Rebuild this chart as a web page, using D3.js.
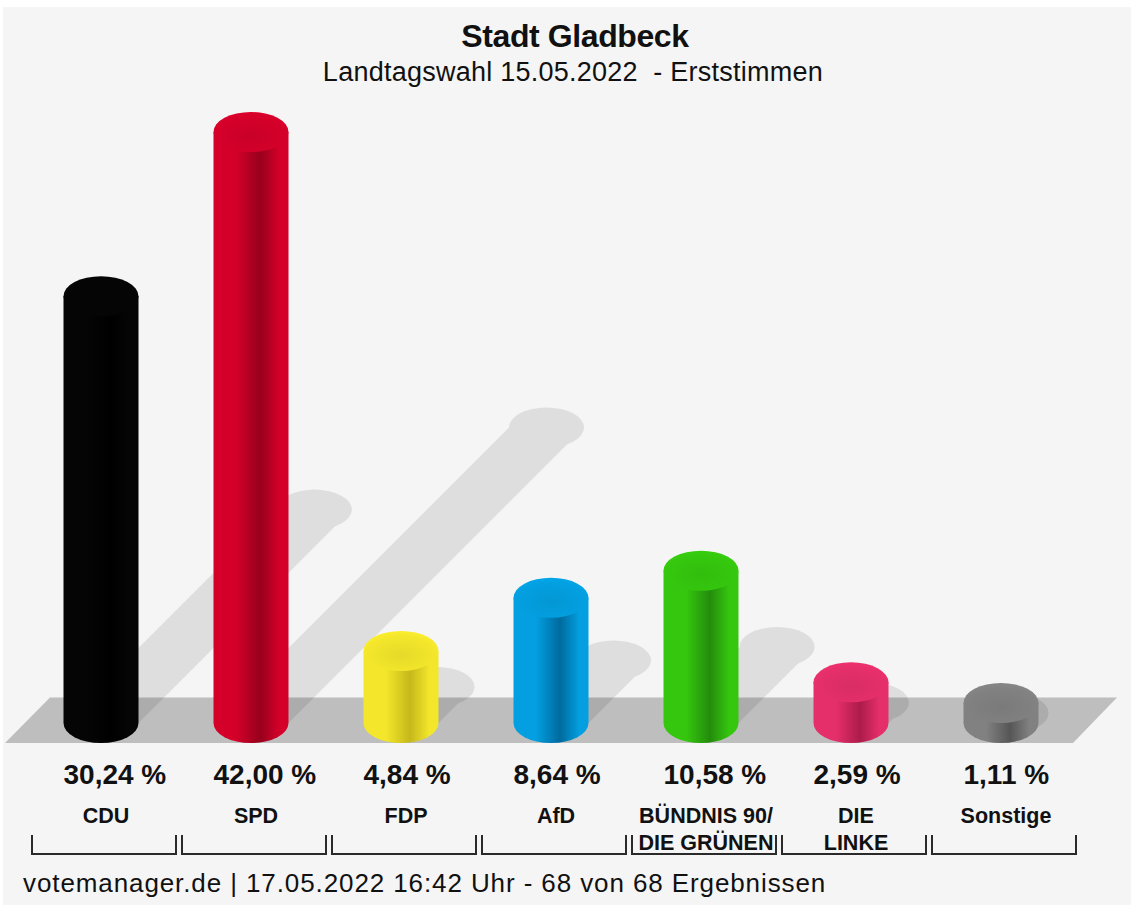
<!DOCTYPE html>
<html>
<head>
<meta charset="utf-8">
<script src="https://cdn.jsdelivr.net/npm/d3@7"></script>
<style>
  html, body { margin: 0; padding: 0; background: #ffffff; }
  svg { display: block; }
  text { font-family: "Liberation Sans", Arial, Helvetica, sans-serif; fill: #111; white-space: pre; }
</style>
</head>
<body>
<svg id="chart" width="1132" height="911"></svg>
<script>
// ---- data ----
const titleText = "Stadt Gladbeck";
const subtitleText = "Landtagswahl 15.05.2022  - Erststimmen";
const footerText = "votemanager.de | 17.05.2022 16:42 Uhr - 68 von 68 Ergebnissen";
const parties = ["CDU", "SPD", "FDP", "AfD", "GRÜNE", "LINKE", "Sonstige"];
const partyLabels = [["CDU"], ["SPD"], ["FDP"], ["AfD"], ["BÜNDNIS 90/", "DIE GRÜNEN"], ["DIE", "LINKE"], ["Sonstige"]];
const values = [30.24, 42.00, 4.84, 8.64, 10.58, 2.59, 1.11];
const baseColors = ["#050505", "#d4002a", "#f3e62b", "#039fe0", "#35c70e", "#e52f6a", "#818181"];
const darkColors = ["#000000", "#97001b", "#c5b81b", "#006a9e", "#238c0c", "#ac1c4b", "#565656"];

// ---- layout ----
const svg = d3.select("#chart");
const defs = svg.append("defs");

const floorTop = 697.5, floorBot = 743;
const rx = 37.5, ry = 20;
const baseCY = floorBot - ry;      // centre of the bottom ellipse
const shearX = 0.5, shearY = 0.5;  // shadow projection factors

const x = d3.scaleBand().domain(parties).range([26, 1076]).paddingInner(0).paddingOuter(0);
const cx = p => x(p) + x.bandwidth() / 2;
const y = d3.scaleLinear().domain([0, 42]).range([698.5, 112]); // top of cylinder
const topCY = v => y(v) + ry;

const de = d3.formatLocale({decimal: ",", thousands: ".", grouping: [3], currency: ["", " €"]});
const fmt = v => de.format(".2f")(v) + " %";

// background panel
svg.append("rect").attr("x", 3).attr("y", 7).attr("width", 1128).attr("height", 898).attr("fill", "#f5f5f5");

// title
svg.append("text").attr("x", 575).attr("y", 47).attr("text-anchor", "middle")
  .attr("font-size", 32).attr("font-weight", "bold").attr("letter-spacing", -0.4).text(titleText);
svg.append("text").attr("x", 573).attr("y", 81).attr("text-anchor", "middle")
  .attr("font-size", 27).attr("letter-spacing", 0.25).attr("fill", "#222").text(subtitleText);

// floor
svg.append("path")
  .attr("d", `M5,${floorBot} L50,${floorTop} L1117,${floorTop} L1073,${floorBot} Z`)
  .attr("fill", "#bebebe");

// shadows
const shadowG = svg.append("g").attr("opacity", 0.085);
parties.forEach((p, i) => {
  const c = cx(p);
  const h = baseCY - topCY(values[i]);
  const tc = c + shearX * h, tcy = baseCY - shearY * h;
  const path = d3.path();
  path.moveTo(c - rx, baseCY);
  path.lineTo(tc - rx, tcy);
  path.lineTo(tc + rx, tcy);
  path.lineTo(c + rx, baseCY);
  path.closePath();
  shadowG.append("path").attr("d", path.toString()).attr("fill", "#000");
  shadowG.append("ellipse").attr("cx", tc).attr("cy", tcy).attr("rx", rx).attr("ry", ry).attr("fill", "#000");
});

// gradients
parties.forEach((p, i) => {
  const g = defs.append("linearGradient").attr("id", "body" + i)
    .attr("x1", "0").attr("x2", "1").attr("y1", "0").attr("y2", "0");
  g.append("stop").attr("offset", "0").attr("stop-color", baseColors[i]);
  g.append("stop").attr("offset", "0.3").attr("stop-color", baseColors[i]);
  g.append("stop").attr("offset", "0.62").attr("stop-color", darkColors[i]);
  g.append("stop").attr("offset", "0.88").attr("stop-color", baseColors[i]);
  g.append("stop").attr("offset", "1").attr("stop-color", baseColors[i]);
  const r = defs.append("radialGradient").attr("id", "top" + i)
    .attr("cx", "0.5").attr("cy", "0.6").attr("r", "0.6");
  r.append("stop").attr("offset", "0").attr("stop-color", d3.color(baseColors[i]).darker(0.15).formatHex());
  r.append("stop").attr("offset", "0.75").attr("stop-color", baseColors[i]);
  r.append("stop").attr("offset", "1").attr("stop-color", d3.color(baseColors[i]).brighter(0.1).formatHex());
});

// cylinders
const bars = svg.append("g");
parties.forEach((p, i) => {
  const c = cx(p);
  const t = topCY(values[i]);
  const body = `M${c - rx},${t} L${c - rx},${baseCY} A${rx},${ry} 0 0 0 ${c + rx},${baseCY} L${c + rx},${t} Z`;
  bars.append("path").attr("d", body).attr("fill", `url(#body${i})`);
  bars.append("ellipse").attr("cx", c).attr("cy", t).attr("rx", rx).attr("ry", ry)
    .attr("fill", `url(#top${i})`);
});

// value labels
parties.forEach((p, i) => {
  svg.append("text").attr("x", cx(p) - rx).attr("y", 784)
    .attr("font-size", 28).attr("font-weight", "bold").attr("fill", "#1a1a1a")
    .text(fmt(values[i]));
});

// party labels
parties.forEach((p, i) => {
  partyLabels[i].forEach((ln, j) => {
    svg.append("text").attr("x", cx(p) + 5).attr("y", 823 + j * 27)
      .attr("text-anchor", "middle").attr("font-size", 21.5).attr("font-weight", "bold").attr("fill", "#1a1a1a")
      .text(ln);
  });
});

// brackets
parties.forEach((p) => {
  const x0 = x(p) + 6, x1 = x(p) + x.bandwidth();
  svg.append("path")
    .attr("d", `M${x0},835 L${x0},854 L${x1},854 L${x1},835`)
    .attr("fill", "none").attr("stroke", "#2a2a2a").attr("stroke-width", 2);
});

// footer
svg.append("text").attr("x", 23).attr("y", 892).attr("font-size", 26).attr("letter-spacing", 0.9)
  .attr("fill", "#222").text(footerText);
</script>
</body>
</html>
